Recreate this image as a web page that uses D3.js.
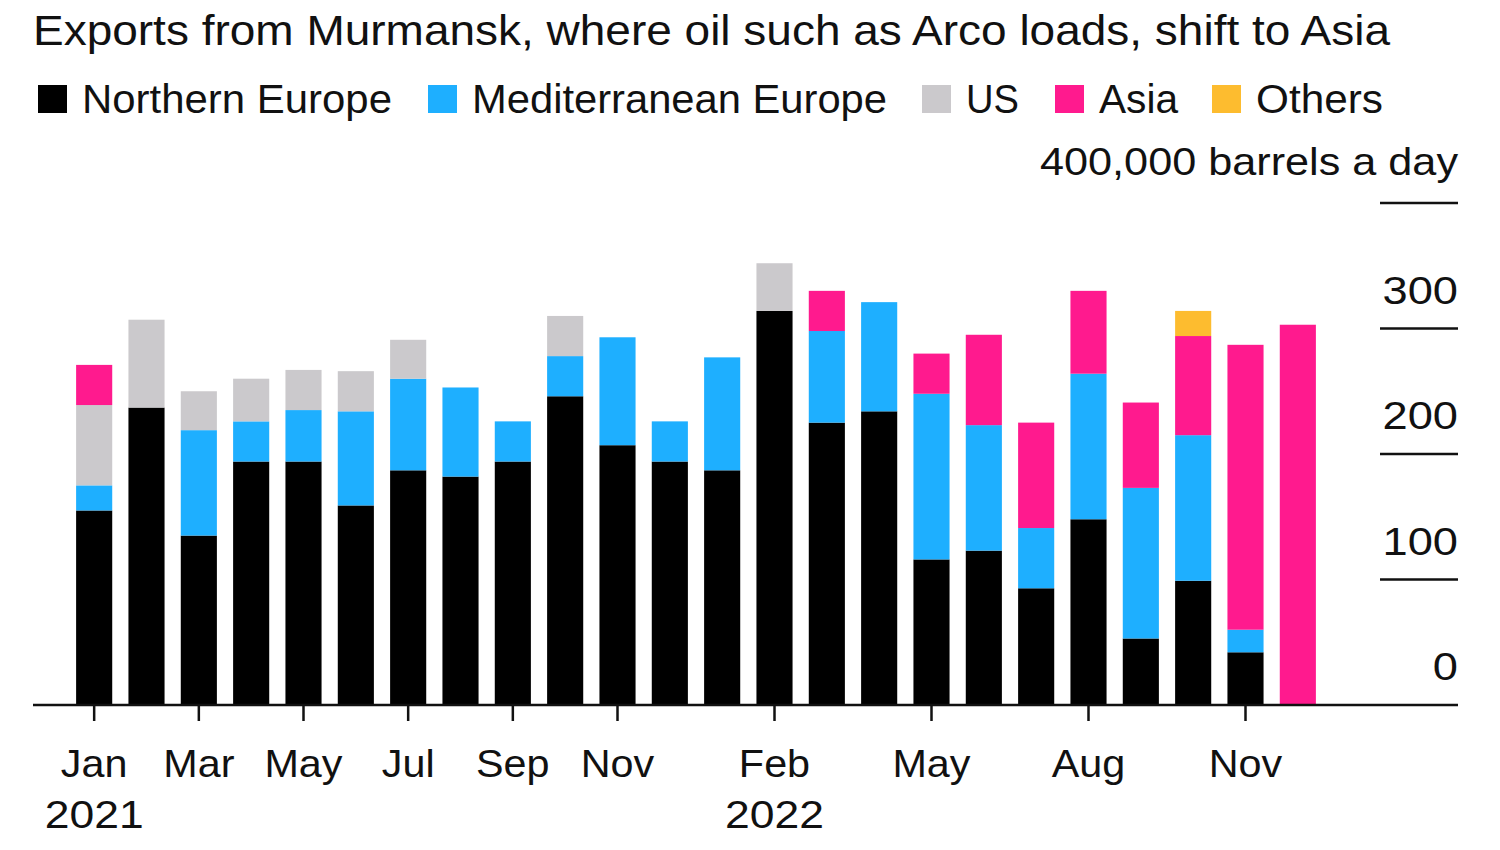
<!DOCTYPE html>
<html>
<head>
<meta charset="utf-8">
<script src="https://cdn.jsdelivr.net/npm/d3@7"></script>
<style>
  html, body { margin: 0; padding: 0; background: #fff; }
  svg { display: block; font-family: "Liberation Sans", Arial, Helvetica, sans-serif; }
</style>
</head>
<body>
<svg id="chart" width="1500" height="850"></svg>
<script>
// ---- data (thousand barrels a day) ----
const months = ["2021-01","2021-02","2021-03","2021-04","2021-05","2021-06","2021-07","2021-08","2021-09","2021-10","2021-11","2021-12",
                "2022-01","2022-02","2022-03","2022-04","2022-05","2022-06","2022-07","2022-08","2022-09","2022-10","2022-11","2022-12"];
const northernEurope      = [155, 237, 135, 194, 194, 159, 187, 182, 194, 246, 207, 194, 187, 314, 225, 234, 116, 123, 93, 148, 53, 99, 42, 0];
const mediterraneanEurope = [20, 0, 84, 32, 41, 75, 73, 71, 32, 32, 86, 32, 90, 0, 73, 87, 132, 100, 48, 116, 120, 116, 18, 0];
const us                  = [64, 70, 31, 34, 32, 32, 31, 0, 0, 32, 0, 0, 0, 38, 0, 0, 0, 0, 0, 0, 0, 0, 0, 0];
const asia                = [32, 0, 0, 0, 0, 0, 0, 0, 0, 0, 0, 0, 0, 0, 32, 0, 32, 72, 84, 66, 68, 79, 227, 303];
const others              = [0, 0, 0, 0, 0, 0, 0, 0, 0, 0, 0, 0, 0, 0, 0, 0, 0, 0, 0, 0, 0, 20, 0, 0];
const seriesNames = ["Northern Europe", "Mediterranean Europe", "US", "Asia", "Others"];
const seriesColors = ["#000000", "#1eafff", "#cbc9cc", "#ff1a8e", "#fdbc2f"];
const yTicks = [0, 100, 200, 300, 400];
const xTickMonths = ["2021-01","2021-03","2021-05","2021-07","2021-09","2021-11","2022-02","2022-05","2022-08","2022-11"];
const xTickLabels = ["Jan","Mar","May","Jul","Sep","Nov","Feb","May","Aug","Nov"];
const yearLabels = [{m:"2021-01", t:"2021"}, {m:"2022-02", t:"2022"}];
const title = "Exports from Murmansk, where oil such as Arco loads, shift to Asia";
const unitLabel = "400,000 barrels a day";

// ---- build table ----
const keys = ["ne","me","us","asia","oth"];
const seriesArrays = [northernEurope, mediterraneanEurope, us, asia, others];
const table = months.map((m, i) => {
  const row = {month: m};
  keys.forEach((k, j) => row[k] = seriesArrays[j][i]);
  return row;
});
const stacked = d3.stack().keys(keys)(table);

const svg = d3.select("#chart");

// widen text horizontally to mimic the reference typeface
function widen(sel, factor, target) {
  sel.each(function () {
    const len = this.getComputedTextLength();
    const t = target != null ? target : len * factor;
    d3.select(this).attr("textLength", t).attr("lengthAdjust", "spacingAndGlyphs");
  });
  return sel;
}

// ---- scales ----
const x = d3.scaleBand().domain(months).range([68, 1324]).paddingInner(0.31).paddingOuter(0.155);
const y = d3.scaleLinear().domain([0, 400]).range([705, 203]);

// ---- title ----
widen(svg.append("text").attr("x", 33).attr("y", 45)
  .attr("font-size", 42).attr("fill", "#111").text(title), 1, 1357);

// ---- legend ----
const legendX = [38, 428, 922, 1055, 1212];
const legendW = [310, 415, 53, 79, 127];
const lg = svg.append("g");
seriesNames.forEach((n, i) => {
  lg.append("rect").attr("x", legendX[i]).attr("y", 85).attr("width", 29).attr("height", 28)
    .attr("fill", seriesColors[i]);
  widen(lg.append("text").attr("x", legendX[i] + 44).attr("y", 113)
    .attr("font-size", 40).attr("fill", "#111").text(n), 1, legendW[i]);
});

// ---- y axis (right) ----
const yAxisG = svg.append("g");
yTicks.filter(t => t > 0).forEach(t => {
  yAxisG.append("line").attr("x1", 1380).attr("x2", 1458)
    .attr("y1", y(t)).attr("y2", y(t)).attr("stroke", "#111").attr("stroke-width", 2.5);
});
yTicks.filter(t => t < 400).forEach(t => {
  widen(yAxisG.append("text").attr("x", 1458).attr("y", y(t) - 25)
    .attr("text-anchor", "end").attr("font-size", 39).attr("fill", "#111").text(t), 1.16);
});
widen(yAxisG.append("text").attr("x", 1458).attr("y", 175)
  .attr("text-anchor", "end").attr("font-size", 39).attr("fill", "#111").text(unitLabel), 1, 418);

// ---- bars ----
svg.append("g").selectAll("g").data(stacked).join("g")
  .attr("fill", (d, i) => seriesColors[i])
  .selectAll("rect").data(d => d.filter(p => p[1] - p[0] > 0)).join("rect")
  .attr("x", d => x(d.data.month))
  .attr("width", x.bandwidth())
  .attr("y", d => y(d[1]))
  .attr("height", d => y(d[0]) - y(d[1]));

// ---- x axis ----
svg.append("line").attr("x1", 33).attr("x2", 1458).attr("y1", 705).attr("y2", 705)
  .attr("stroke", "#111").attr("stroke-width", 2.5);
const xc = m => x(m) + x.bandwidth() / 2;
const xg = svg.append("g");
xTickMonths.forEach((m, i) => {
  xg.append("line").attr("x1", xc(m)).attr("x2", xc(m)).attr("y1", 705).attr("y2", 721)
    .attr("stroke", "#111").attr("stroke-width", 2.5);
  widen(xg.append("text").attr("x", xc(m)).attr("y", 777).attr("text-anchor", "middle")
    .attr("font-size", 39).attr("fill", "#111").text(xTickLabels[i]), 1.06);
});
yearLabels.forEach(d => {
  widen(xg.append("text").attr("x", xc(d.m)).attr("y", 828).attr("text-anchor", "middle")
    .attr("font-size", 39).attr("fill", "#111").text(d.t), 1.14);
});
</script>
</body>
</html>
